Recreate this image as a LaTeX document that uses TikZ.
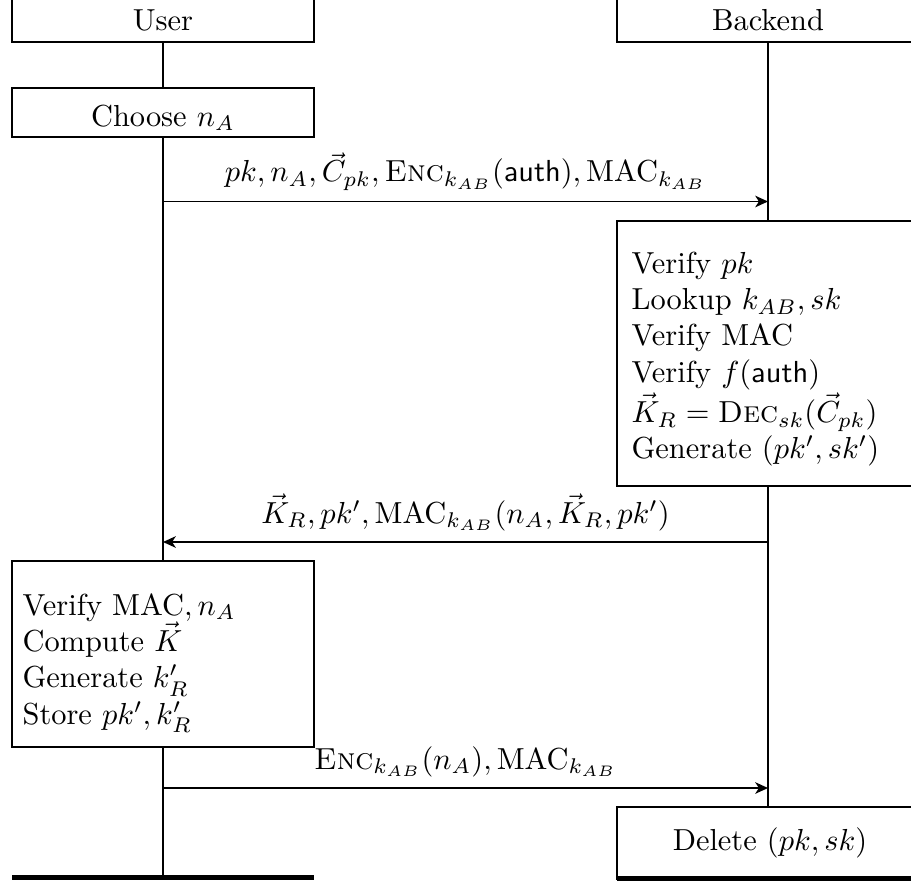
\documentclass[tikz,border=0pt]{standalone}
\usetikzlibrary{arrows.meta}
\begin{document}
\begin{tikzpicture}[x=0.3289pt,y=-0.3289pt,
  box/.style={draw, line width=0.6pt, fill=white, minimum width=99.3pt, inner sep=0pt},
  lifeline/.style={line width=0.6pt},
  msg/.style={line width=0.6pt, -{Stealth[length=4.2pt,width=3.8pt,inset=1.2pt]}},
  endbar/.style={fill=black, draw=none, minimum width=99.3pt, minimum height=1.4pt, inner sep=0pt},
  txt/.style={inner sep=0pt},
  ltxt/.style={inner sep=0pt, anchor=base west, text width=3.2cm, align=left},
  lbl/.style={above, inner sep=3.33pt}
]
\useasboundingbox (0,0) rectangle (911,882);

% boxes
\node[box, minimum height=14.4pt] (uh) at (163,20) {User};
\node[box, minimum height=14.4pt] (bh) at (768,20) {Backend};

\node[box, minimum height=16.1pt] (c1) at (163,112.5) {};
\node[txt, anchor=base] (c1t) at (163,126) {Choose $n_A$};

\node[box, minimum height=87.2pt] (bb1) at (768,353.5) {};
\node[ltxt] (bb1t) at (631,273) {Verify $pk$\\
Lookup $k_{AB}, sk$\\
Verify $\mathrm{MAC}$\\
Verify $f(\textsf{auth})$\\
$\vec{K}_R = \textsc{Dec}_{sk}(\vec{C}_{pk})$\\
Generate $(pk', sk')$};

\node[box, minimum height=61.2pt] (ub2) at (163,654) {};
\node[ltxt] (ub2t) at (22,615) {Verify $\mathrm{MAC}, n_A$\\
Compute $\vec{K}$\\
Generate $k'_R$\\
Store $pk', k'_R$};

\node[box, minimum height=23.7pt] (del) at (768,843) {};
\node[txt, anchor=base] (delt) at (770,850) {Delete $(pk, sk)$};

\node[endbar] (uend) at (163,877.5) {};
\node[endbar] (bend) at (768,878.5) {};

% lifelines
\draw[lifeline] (uh) -- (c1);
\draw[lifeline] (c1) -- (ub2);
\draw[lifeline] (ub2) -- (uend);
\draw[lifeline] (bh) -- (bb1);
\draw[lifeline] (bb1) -- (del);

% messages
\coordinate (m1u) at (163,201.5);
\coordinate (m1b) at (768,201.5);
\coordinate (m2u) at (163,542);
\coordinate (m2b) at (768,542);
\coordinate (m3u) at (163,788);
\coordinate (m3b) at (768,788);

\draw[msg] (m1u) -- node[lbl] (l1) {$pk, n_A, \vec{C}_{pk}, \textsc{Enc}_{k_{AB}}(\textsf{auth}), \mathrm{MAC}_{k_{AB}}$} (m1b);
\draw[msg] (m2b) -- node[lbl] (l2) {$\vec{K}_R, pk', \mathrm{MAC}_{k_{AB}}(n_A, \vec{K}_R, pk')$} (m2u);
\draw[msg] (m3u) -- node[lbl] (l3) {$\textsc{Enc}_{k_{AB}}(n_A), \mathrm{MAC}_{k_{AB}}$} (m3b);
\end{tikzpicture}
\end{document}
